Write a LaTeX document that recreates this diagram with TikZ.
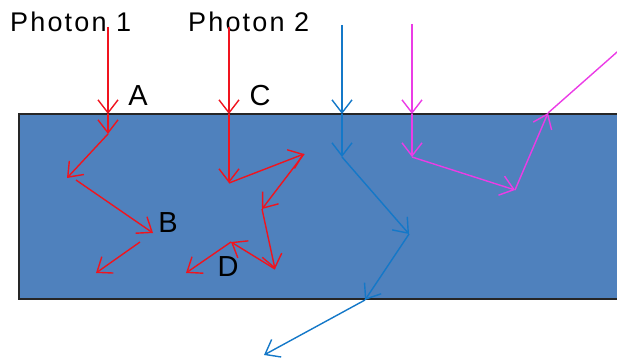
\documentclass[tikz,border=0pt]{standalone}
\usepackage{fontspec}
\setmainfont{Liberation Sans}
\newfontfamily\titlefont[LetterSpace=8]{Liberation Sans}
\usetikzlibrary{arrows.meta}
\definecolor{slab}{RGB}{79,129,189}
\definecolor{rayred}{RGB}{240,20,30}
\definecolor{rayblue}{RGB}{20,120,200}
\definecolor{raymag}{RGB}{235,60,230}
\tikzset{
  ray/.style={line width=1.4pt,-{Straight Barb[length=13pt,width=20pt,line width=1.4pt]}},
  lab/.style={inner sep=0pt,font=\fontsize{29}{30}\selectfont},
  title/.style={inner sep=0pt,anchor=base west,font=\titlefont\fontsize{27}{28}\selectfont}
}
\begin{document}
\begin{tikzpicture}[x=1pt,y=-1pt]
\useasboundingbox (0,0) rectangle (617,358);
\clip (0,0) rectangle (617,358);
\draw[fill=slab,draw=black!85,line width=1.2pt] (19,114) rectangle (640,299);
\node[title] (p1) at (10,32) {Photon 1};
\node[title] (p2) at (188,32) {Photon 2};
\node[lab] (A) at (138,96) {A};
\node[lab] (C) at (260,96) {C};
\node[lab] (B) at (168,223) {B};
\node[lab] (D) at (228,267) {D};
% photon 1
\coordinate (a0) at (108,27);
\coordinate (a1) at (108,114);
\coordinate (a2) at (108,134);
\coordinate (a3) at (67,178);
\coordinate (a4) at (76,180);
\coordinate (a5) at (153,233);
\coordinate (a6) at (140,242);
\coordinate (a7) at (96,273);
\begin{scope}[rayred]
\draw[ray] (a0) -- (a1);
\draw[ray] (a1) -- (a2);
\draw[ray] (a2) -- (a3);
\draw[ray] (a4) -- (a5);
\draw[ray] (a6) -- (a7);
\end{scope}
% photon 2
\coordinate (c0) at (229,27);
\coordinate (c1) at (229,114);
\coordinate (c2) at (229,183);
\coordinate (c3) at (304,154);
\coordinate (c4) at (262,209);
\coordinate (c5) at (275,269);
\coordinate (c6) at (231,242);
\coordinate (c7) at (186,273);
\begin{scope}[rayred]
\draw[ray] (c0) -- (c1);
\draw[ray] (c1) -- (c2);
\draw[ray] (c2) -- (c3);
\draw[ray] (c3) -- (c4);
\draw[ray] (c4) -- (c5);
\draw[ray] (c5) -- (c6);
\draw[ray] (c6) -- (c7);
\end{scope}
% blue
\coordinate (b0) at (342,25);
\coordinate (b1) at (342,114);
\coordinate (b2) at (342,157);
\coordinate (b3) at (409,234);
\coordinate (b4) at (365,300);
\coordinate (b5) at (264,355);
\begin{scope}[rayblue]
\draw[ray] (b0) -- (b1);
\draw[ray] (b1) -- (b2);
\draw[ray] (b2) -- (b3);
\draw[ray] (b3) -- (b4);
\draw[ray] (b4) -- (b5);
\end{scope}
% magenta
\coordinate (m0) at (412,24);
\coordinate (m1) at (412,114);
\coordinate (m2) at (412,157);
\coordinate (m3) at (515,190);
\coordinate (m4) at (548,113);
\coordinate (m5) at (625,45);
\begin{scope}[raymag]
\draw[ray] (m0) -- (m1);
\draw[ray] (m1) -- (m2);
\draw[ray] (m2) -- (m3);
\draw[ray] (m3) -- (m4);
\draw[line width=1.4pt] (m4) -- (m5);
\end{scope}
\end{tikzpicture}
\end{document}
